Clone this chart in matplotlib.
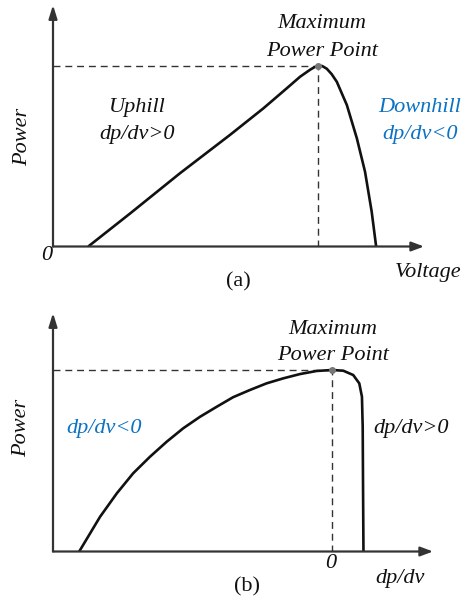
import matplotlib
matplotlib.use("Agg")
import matplotlib.pyplot as plt

# ---- Data (arbitrary units 0..100 on each axis) ----
# Panel (a): P-V curve
volt_a = [9.5, 20.8, 34.2, 47.7, 56.7, 63.0, 66.6, 69.3, 70.4, 71.5, 72.6,
          73.8, 75.1, 76.5, 79.2, 81.9, 84.1, 85.9, 87.1]
power_a = [0.0, 13.7, 30.3, 46.2, 57.2, 65.5, 70.3, 73.2, 74.2, 74.9, 74.7,
           73.6, 71.4, 68.2, 58.6, 44.8, 31.0, 14.4, 0.0]
mpp_a = (71.5, 74.9)

# Panel (b): P vs dp/dv curve
dpdv_b = [6.9, 12.4, 16.8, 21.1, 25.5, 29.9, 34.3, 38.7, 43.1, 47.4, 51.8,
          56.2, 60.6, 65.0, 69.4, 73.5, 76.4, 79.0, 80.6, 81.3, 81.5, 81.6, 81.7]
power_b = [0.0, 14.6, 24.4, 32.8, 39.7, 46.0, 51.7, 56.5, 60.7, 64.7, 67.7,
           70.5, 72.6, 74.4, 75.7, 76.1, 75.8, 74.0, 70.5, 64.9, 52.3, 24.5, 0.0]
mpp_b = (73.5, 76.1)

W, H = 470, 601
BLUE = "#0b72c4"
AXC = "#333333"
SERIF = ["Liberation Serif", "DejaVu Serif"]

fig = plt.figure(figsize=(W / 100, H / 100), dpi=100)


def fx(px):
    return px / W


def fy(py):
    return 1 - py / H


def panel(left, right, bottom, top, xs, ys, mpp):
    ax = fig.add_axes([fx(left), fy(bottom), fx(right) - fx(left), fy(top) - fy(bottom)])
    ax.set_xlim(0, 100)
    ax.set_ylim(0, 100)
    ax.axis("off")
    # axes with arrows
    ax.annotate("", xy=(1.0, 0), xycoords="axes fraction", xytext=(0, 0),
                arrowprops=dict(arrowstyle="-|>,head_length=0.75,head_width=0.28",
                                color=AXC, lw=1.6, shrinkA=0, shrinkB=0))
    ax.annotate("", xy=(0, 1.0), xycoords="axes fraction", xytext=(0, 0),
                arrowprops=dict(arrowstyle="-|>,head_length=0.8,head_width=0.25",
                                color=AXC, lw=1.6, shrinkA=0, shrinkB=0))
    # dashed guides
    ax.plot([0, mpp[0]], [mpp[1], mpp[1]], color=AXC, lw=1.0, ls=(0, (5, 3.5)))
    ax.plot([mpp[0], mpp[0]], [0, mpp[1]], color=AXC, lw=1.0, ls=(0, (5, 3.5)))
    # curve
    ax.plot(xs, ys, color="#111111", lw=1.9, solid_capstyle="butt",
            solid_joinstyle="round")
    ax.plot([mpp[0]], [mpp[1]], "o", color="#777777", ms=4, zorder=5)
    return ax


panel(53, 424, 246.5, 5, volt_a, power_a, mpp_a)
panel(53, 433, 551.5, 313, dpdv_b, power_b, mpp_b)


def t(x, y, s, color="#111111", rot=0, italic=True, size=16):
    fig.text(fx(x), fy(y), s, ha="center", va="center", color=color,
             rotation=rot, family=SERIF, style="italic" if italic else "normal",
             fontsize=size)


# Panel (a) texts
t(322, 24, "Maximum")
t(322, 51, "Power Point")
t(23, 137, "Power", rot=90)
t(137, 107, "Uphill")
t(137, 134, "dp/dv>0")
t(420, 107, "Downhill", color=BLUE)
t(420, 134, "dp/dv<0", color=BLUE)
t(46.7, 255, "0")
t(428, 272, "Voltage")
t(238, 282, "(a)", italic=False)

# Panel (b) texts
t(333, 329, "Maximum")
t(333, 356, "Power Point")
t(22, 428, "Power", rot=90)
t(104, 429, "dp/dv<0", color=BLUE)
t(411, 429, "dp/dv>0")
t(331, 564, "0")
t(400, 578, "dp/dv")
t(247, 587, "(b)", italic=False)

fig.savefig("out.png", dpi=100)
